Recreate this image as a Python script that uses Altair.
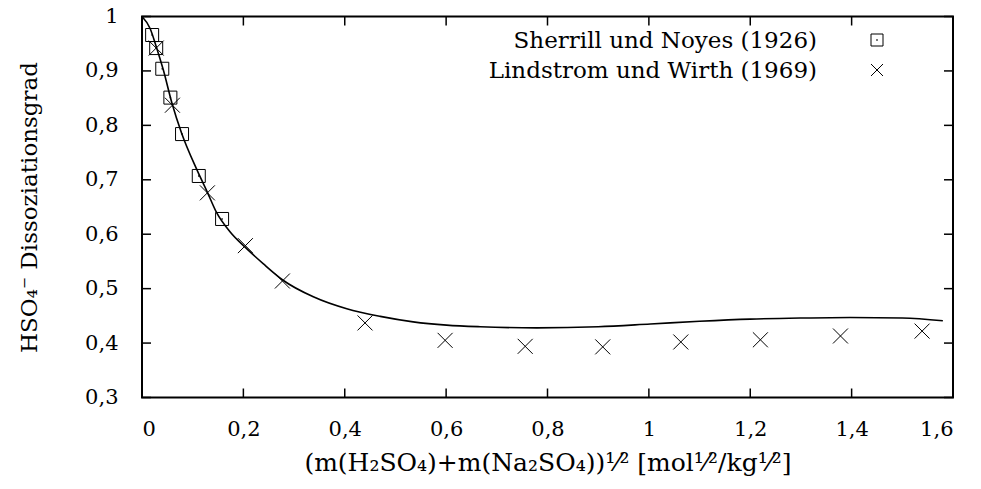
import altair as alt
import pandas as pd

# ---- data ----
sherrill_x = [0.020, 0.028, 0.040, 0.056, 0.079, 0.112, 0.158]
sherrill_y = [0.966, 0.942, 0.904, 0.851, 0.784, 0.707, 0.628]

lindstrom_x = [0.028, 0.060, 0.129, 0.204, 0.277, 0.440, 0.598, 0.756, 0.909, 1.063, 1.220, 1.378, 1.539]
lindstrom_y = [0.942, 0.837, 0.676, 0.579, 0.514, 0.437, 0.405, 0.394, 0.393, 0.402, 0.406, 0.413, 0.422]

curve_x = [0.0, 0.016, 0.028, 0.042, 0.059, 0.078, 0.108, 0.129, 0.147, 0.174, 0.207, 0.239,
           0.279, 0.338, 0.404, 0.470, 0.535, 0.601, 0.667, 0.779, 0.900, 1.003, 1.100, 1.200,
           1.300, 1.397, 1.500, 1.580]
curve_y = [1.0, 0.978, 0.945, 0.902, 0.841, 0.786, 0.719, 0.677, 0.640, 0.604, 0.573, 0.546,
           0.515, 0.485, 0.463, 0.449, 0.439, 0.433, 0.430, 0.428, 0.430, 0.435, 0.440, 0.444,
           0.446, 0.447, 0.446, 0.441]

x_ticks = [0, 0.2, 0.4, 0.6, 0.8, 1.0, 1.2, 1.4, 1.6]
y_ticks = [0.3, 0.4, 0.5, 0.6, 0.7, 0.8, 0.9, 1.0]

legend_labels = ["Sherrill und Noyes (1926)", "Lindstrom und Wirth (1969)"]

x_title = "(m(H₂SO₄)+m(Na₂SO₄))¹⁄² [mol¹⁄²/kg¹⁄²]"
y_title = "HSO₄⁻ Dissoziationsgrad"

# ---- layout ----
W, H = 811, 381
FONT = "DejaVu Serif"
FS = 21      # tick labels
FT = 23      # y title / legend
FX = 25      # x title
TICK = 9
CROSS = "M-1,-1L1,1M-1,1L1,-1"

xs = alt.Scale(domain=[0, 1.6], nice=False, zero=False)
ys = alt.Scale(domain=[0.3, 1.0], nice=False, zero=False)
lab = "replace(format(datum.value, '~g'), '.', ',')"

x_axis = alt.Axis(
    orient="bottom",
    values=x_ticks, labelExpr=lab, ticks=False, domain=False, grid=False,
    labelPadding=21, labelFontSize=FS, labelFont=FONT, labelColor="black",
    title=x_title, titleFont=FONT, titleFontSize=FX, titleFontWeight="normal",
    titleColor="black", titleX=W / 2, titleY=73, titleAlign="center",
    titleBaseline="alphabetic")
y_axis = alt.Axis(
    orient="left",
    values=y_ticks, labelExpr=lab, ticks=False, domain=False, grid=False,
    labelPadding=24, labelFontSize=FS, labelFont=FONT, labelColor="black",
    title=y_title, titleFont=FONT, titleFontSize=FT, titleFontWeight="normal",
    titleColor="black", titleX=-106, titleY=H / 2, titleAngle=-90,
    titleAlign="center", titleBaseline="alphabetic")


def X(f):
    return alt.X(f, scale=xs, axis=x_axis)


def Y(f):
    return alt.Y(f, scale=ys, axis=y_axis)


curve_df = pd.DataFrame({"x": curve_x, "y": curve_y})
sq_df = pd.DataFrame({"x": sherrill_x, "y": sherrill_y})
cr_df = pd.DataFrame({"x": lindstrom_x, "y": lindstrom_y})
xt_df = pd.DataFrame({"x": x_ticks})
yt_df = pd.DataFrame({"y": y_ticks})
leg1_df = pd.DataFrame({"label": [legend_labels[0]]})
leg2_df = pd.DataFrame({"label": [legend_labels[1]]})

curve = alt.Chart(curve_df).mark_line(color="black", strokeWidth=1.6, interpolate="monotone").encode(
    x=X("x:Q"), y=Y("y:Q"))

squares = alt.Chart(sq_df).mark_point(shape="square", size=169, color="black",
                                      strokeWidth=1, filled=False, opacity=1).encode(
    x=X("x:Q"), y=Y("y:Q"))
dots = alt.Chart(sq_df).mark_point(shape="square", size=2, color="black", filled=True, opacity=1).encode(
    x=X("x:Q"), y=Y("y:Q"))
crosses = alt.Chart(cr_df).mark_point(shape=CROSS, size=225, color="black",
                                      strokeWidth=1, filled=False, opacity=1).encode(
    x=X("x:Q"), y=Y("y:Q"))

# inward ticks on all four sides
tb = alt.Chart(xt_df).mark_rule(color="black", strokeWidth=1.5).encode(
    x=X("x:Q"), y=alt.value(H), y2=alt.value(H - TICK))
tt = alt.Chart(xt_df).mark_rule(color="black", strokeWidth=1.5).encode(
    x=X("x:Q"), y=alt.value(0), y2=alt.value(TICK))
tl = alt.Chart(yt_df).mark_rule(color="black", strokeWidth=1.5).encode(
    y=Y("y:Q"), x=alt.value(0), x2=alt.value(TICK))
tr = alt.Chart(yt_df).mark_rule(color="black", strokeWidth=1.5).encode(
    y=Y("y:Q"), x=alt.value(W), x2=alt.value(W - TICK))

# manual legend (labels left, symbols right)
leg_t1 = alt.Chart(leg1_df).mark_text(align="right", baseline="middle", font=FONT,
                                      fontSize=FT, color="black").encode(
    text="label:N", x=alt.value(675), y=alt.value(24))
leg_t2 = alt.Chart(leg2_df).mark_text(align="right", baseline="middle", font=FONT,
                                      fontSize=FT, color="black").encode(
    text="label:N", x=alt.value(675), y=alt.value(54))
leg_sq = alt.Chart(leg1_df).mark_point(shape="square", size=144, color="black",
                                       strokeWidth=1, filled=False, opacity=1).encode(
    x=alt.value(735), y=alt.value(23.5))
leg_dot = alt.Chart(leg1_df).mark_point(shape="square", size=2, color="black",
                                        filled=True, opacity=1).encode(
    x=alt.value(735), y=alt.value(23.5))
leg_cr = alt.Chart(leg2_df).mark_point(shape=CROSS, size=144, color="black",
                                       strokeWidth=1, filled=False, opacity=1).encode(
    x=alt.value(735), y=alt.value(53.5))

chart = alt.layer(curve, squares, dots, crosses, tb, tt, tl, tr,
                  leg_t1, leg_t2, leg_sq, leg_dot, leg_cr).properties(
    width=W, height=H,
    padding={"left": 134, "top": 8.5, "right": 20, "bottom": 83},
    autosize=alt.AutoSizeParams(type="none"),
    background="white",
).configure_view(stroke="black", strokeWidth=2)

chart.save("out.html", embed_options={"renderer": "svg", "actions": False})
